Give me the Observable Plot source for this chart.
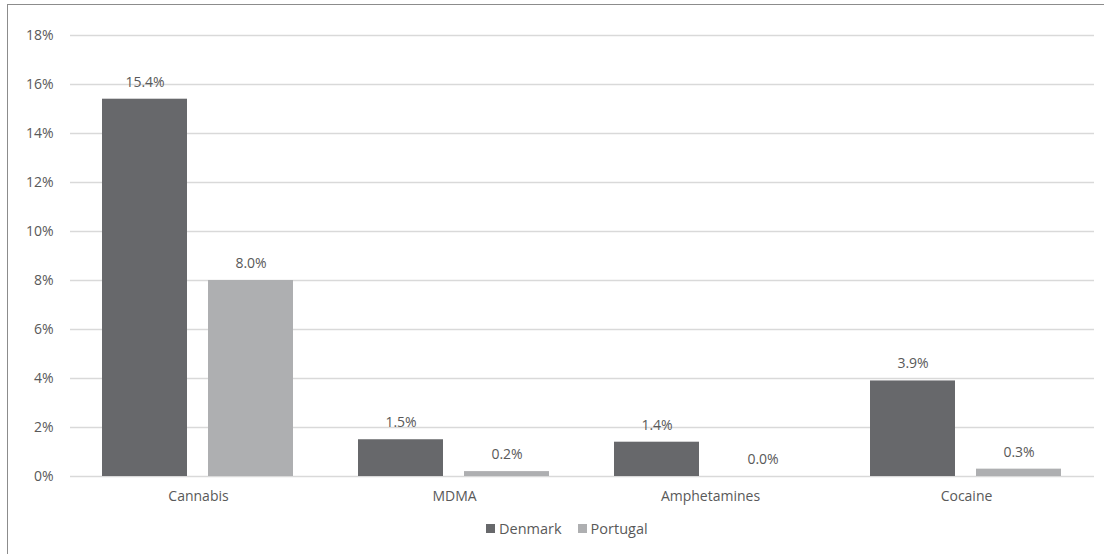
<!DOCTYPE html>
<html>
<head>
<meta charset="utf-8">
<script src="https://cdn.jsdelivr.net/npm/d3@7"></script>
<script src="https://cdn.jsdelivr.net/npm/@observablehq/plot@0.6"></script>
<style>
  html, body { margin: 0; padding: 0; background: #fff; }
  #frame {
    position: absolute; left: 7px; top: 4px; right: 0; bottom: 0;
    border-top: 1.5px solid #8c8c8c; border-left: 1.5px solid #8c8c8c;
  }
  #chart { position: absolute; left: 0; top: 0; }
  #legend {
    position: absolute; left: 486px; top: 519px;
    font-family: "Open Sans", sans-serif; font-size: 14.5px; color: #595959;
    display: flex; align-items: center; white-space: nowrap;
  }
  #legend .sw { display: inline-block; width: 9px; height: 9px; margin-right: 4px; }
  #legend .item { display: inline-flex; align-items: center; margin-right: 16px; }
</style>
</head>
<body>
<div id="frame"></div>
<div id="chart"></div>
<div id="legend"></div>
<script>
// Drug use prevalence by substance, two countries
const drugs = ["Cannabis", "MDMA", "Amphetamines", "Cocaine"];
const countries = ["Denmark", "Portugal"];
const denmark = [15.4, 1.5, 1.4, 3.9];
const portugal = [8.0, 0.2, 0.0, 0.3];
const yTicks = [0, 2, 4, 6, 8, 10, 12, 14, 16, 18];
const colors = ["#67686b", "#aeafb1"];

const rows = drugs.flatMap((d, i) => [
  {drug: d, country: "Denmark", value: denmark[i]},
  {drug: d, country: "Portugal", value: portugal[i]}
]);

const chart = Plot.plot({
  width: 1104,
  height: 510,
  marginLeft: 70,
  marginRight: 10,
  marginTop: 35,
  marginBottom: 34,
  style: {fontFamily: "'Open Sans', sans-serif", fontSize: "14px", color: "#595959", background: "transparent"},
  fx: {domain: drugs, padding: 0, label: null, axis: null},
  x: {domain: countries, paddingInner: 0.198, paddingOuter: 0.302, axis: null},
  y: {domain: [0, 18], ticks: yTicks, label: null},
  color: {domain: countries, range: colors},
  marks: [
    Plot.gridY(yTicks, {stroke: "#d9d9d9", strokeOpacity: 1, strokeWidth: 1.3}),
    Plot.axisY(yTicks, {tickSize: 0, tickPadding: 17, tickFormat: d => d + "%", label: null, fontSize: 14}),
    Plot.axisFx({anchor: "bottom", tickSize: 0, tickPadding: 15, label: null, fontSize: 14}),
    Plot.barY(rows, {fx: "drug", x: "country", y: "value", fill: "country"}),
    Plot.text(rows, {fx: "drug", x: "country", y: "value", text: d => d.value.toFixed(1) + "%", dy: -17, fill: "#595959", fontSize: 14})
  ]
});
document.getElementById("chart").appendChild(chart);

// Legend below the plot
const legend = document.getElementById("legend");
countries.forEach((c, i) => {
  const item = document.createElement("span");
  item.className = "item";
  const sw = document.createElement("span");
  sw.className = "sw";
  sw.style.background = colors[i];
  item.appendChild(sw);
  item.appendChild(document.createTextNode(c));
  legend.appendChild(item);
});
</script>
</body>
</html>
